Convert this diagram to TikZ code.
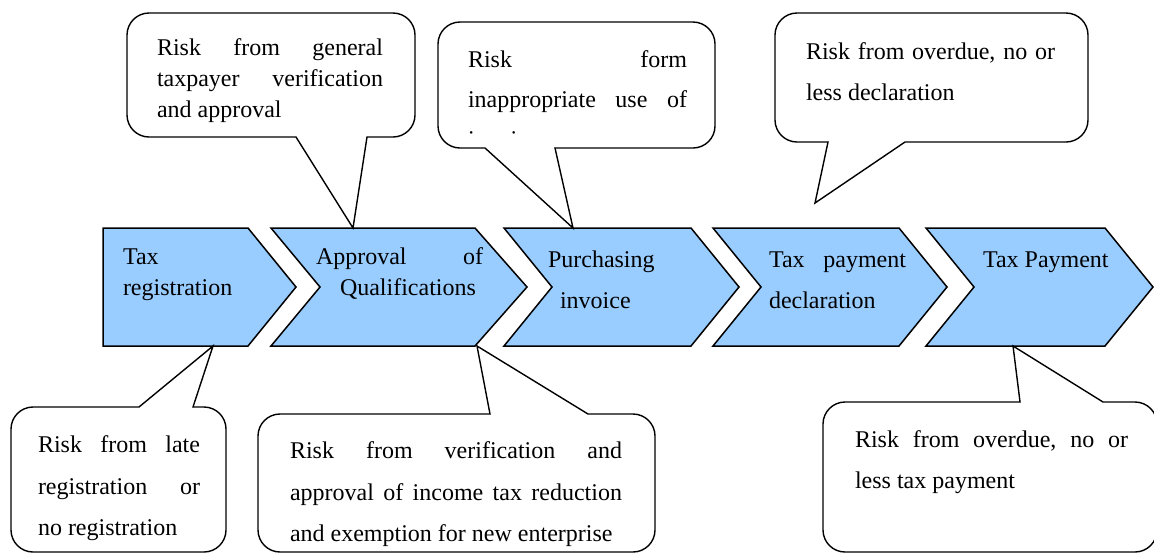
\documentclass[tikz,border=0pt]{standalone}
\usepackage{fontspec}
\setmainfont{Liberation Serif}
\definecolor{stepblue}{RGB}{153,204,255}
\tikzset{
  chev/.style={draw=black, fill=stepblue, line width=0.75pt, line join=miter},
  callout/.style={draw=black, fill=white, line width=0.7pt, line join=miter},
  lbl/.style={anchor=base west, inner sep=0pt, outer sep=0pt, font=\fontsize{12}{14}\selectfont},
}
% corner radius of the callout boxes
\def\rr{22}
% callout with its pointer on the lower edge: L, T, R, B, pointer base left, base right, tip x, tip y
\newcommand\calloutdown[8]{%
  \draw[callout] (#1,#2+\rr) .. controls (#1,#2+0.45*\rr) and (#1+0.45*\rr,#2) .. (#1+\rr,#2)
    -- (#3-\rr,#2) .. controls (#3-0.45*\rr,#2) and (#3,#2+0.45*\rr) .. (#3,#2+\rr)
    -- (#3,#4-\rr) .. controls (#3,#4-0.45*\rr) and (#3-0.45*\rr,#4) .. (#3-\rr,#4)
    -- (#6,#4) -- (#7,#8) -- (#5,#4)
    -- (#1+\rr,#4) .. controls (#1+0.45*\rr,#4) and (#1,#4-0.45*\rr) .. (#1,#4-\rr) -- cycle;}
% callout with its pointer on the upper edge
\newcommand\calloutup[8]{%
  \draw[callout] (#1,#2+\rr) .. controls (#1,#2+0.45*\rr) and (#1+0.45*\rr,#2) .. (#1+\rr,#2)
    -- (#5,#2) -- (#7,#8) -- (#6,#2)
    -- (#3-\rr,#2) .. controls (#3-0.45*\rr,#2) and (#3,#2+0.45*\rr) .. (#3,#2+\rr)
    -- (#3,#4-\rr) .. controls (#3,#4-0.45*\rr) and (#3-0.45*\rr,#4) .. (#3-\rr,#4)
    -- (#1+\rr,#4) .. controls (#1+0.45*\rr,#4) and (#1,#4-0.45*\rr) .. (#1,#4-\rr) -- cycle;}
\begin{document}
\begin{tikzpicture}[x=0.5pt, y=-0.5pt]
\clip (0,0) rectangle (1154,553);
\fill[white] (0,0) rectangle (1154,553);

% process chevrons
\draw[chev] (103,228) -- (248,228) -- (296,287) -- (248,346) -- (103,346) -- cycle;
\draw[chev] (271,228) -- (475,228) -- (527,287) -- (475,346) -- (271,346) -- (320,287) -- cycle;
\draw[chev] (504,228) -- (691,228) -- (739,287) -- (691,346) -- (504,346) -- (552,287) -- cycle;
\draw[chev] (713,228) -- (899,228) -- (947,287) -- (899,346) -- (713,346) -- (761,287) -- cycle;
\draw[chev] (926,228) -- (1105,228) -- (1153,287) -- (1105,346) -- (926,346) -- (974,287) -- cycle;

\node[lbl] (c1a) at (123,264) {Tax};
\node[lbl] (c1b) at (123,295) {registration};
\node[lbl] (c2a) at (316,264) {\hbox to 83.5pt{Approval\hfill of}};
\node[lbl] (c2b) at (340,295) {Qualifications};
\node[lbl] (c3a) at (548,267) {Purchasing};
\node[lbl] (c3b) at (560,308) {invoice};
\node[lbl] (c4a) at (769,267) {\hbox to 68.5pt{Tax\hfill payment}};
\node[lbl] (c4b) at (769,308) {declaration};
\node[lbl] (c5a) at (983,267) {Tax Payment};

% risk callouts above the chain
\calloutdown{127}{13}{415}{137}{296}{367}{353}{228}
\node[lbl] (r1a) at (157,55) {\hbox to 113pt{Risk\hfill from\hfill general}};
\node[lbl] (r1b) at (157,86) {\hbox to 113pt{taxpayer\hfill verification}};
\node[lbl] (r1c) at (157,117) {and approval};

\calloutdown{438}{22}{715}{148}{485}{555}{573}{228}
\node[lbl] (r2a) at (468,67) {\hbox to 109.5pt{Risk\hfill form}};
\node[lbl] (r2b) at (468,107) {\hbox to 109.5pt{inappropriate\hfill use\hfill of}};
\begin{scope}
  \clip (440,24) rectangle (713,134);
  \node[lbl] (r2c) at (468,147) {invoice};
\end{scope}

\calloutdown{775}{13}{1088}{142}{828}{905}{815}{203}
\node[lbl] (r3a) at (806,59) {\hbox to 124.5pt{Risk\hfill from\hfill overdue,\hfill no\hfill or}};
\node[lbl] (r3b) at (806,100) {less declaration};

% risk callouts below the chain
\calloutup{11}{407}{226}{552}{139}{193}{213}{346}
\node[lbl] (r4a) at (38,452) {\hbox to 81pt{Risk\hfill from\hfill late}};
\node[lbl] (r4b) at (38,494) {\hbox to 81pt{registration\hfill or}};
\node[lbl] (r4c) at (38,535) {no registration};

\calloutup{258}{414}{655}{552}{490}{588}{477}{346}
\node[lbl] (r5a) at (290,458) {\hbox to 166pt{Risk\hfill from\hfill verification\hfill and}};
\node[lbl] (r5b) at (290,500) {\hbox to 166pt{approval\hfill of\hfill income\hfill tax\hfill reduction}};
\node[lbl] (r5c) at (290,541) {and exemption for new enterprise};

\calloutup{823}{402}{1157}{552}{1020}{1103}{1013}{346}
\node[lbl] (r6a) at (855,447) {\hbox to 136.5pt{Risk\hfill from\hfill overdue,\hfill no\hfill or}};
\node[lbl] (r6b) at (855,488) {less tax payment};
\end{tikzpicture}
\end{document}
